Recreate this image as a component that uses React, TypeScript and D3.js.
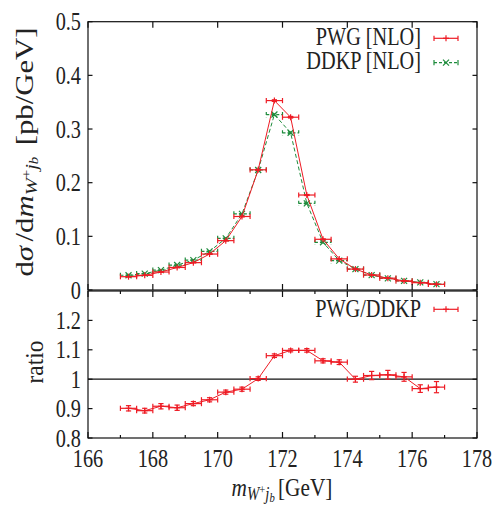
import React from "react";
import * as d3 from "d3";

const binCenters = [167.25, 167.75, 168.25, 168.75, 169.25, 169.75, 170.25, 170.75, 171.25, 171.75, 172.25, 172.75, 173.25, 173.75, 174.25, 174.75, 175.25, 175.75, 176.25, 176.75];
const binHalfWidth = 0.25;
const pwg = [0.0248, 0.0273, 0.0335, 0.042, 0.051, 0.067, 0.092, 0.137, 0.224, 0.353, 0.322, 0.177, 0.0945, 0.058, 0.039, 0.028, 0.022, 0.017, 0.0137, 0.0106];
const pwgErr = [0.0003, 0.0003, 0.0003, 0.0004, 0.0004, 0.0005, 0.0006, 0.0008, 0.001, 0.0015, 0.0015, 0.001, 0.0007, 0.0005, 0.0004, 0.0004, 0.0003, 0.0003, 0.0003, 0.0003];
const ddkp = [0.0275, 0.0306, 0.0369, 0.0465, 0.0556, 0.072, 0.0962, 0.1418, 0.2236, 0.327, 0.293, 0.1615, 0.0889, 0.0548, 0.039, 0.0277, 0.0217, 0.0169, 0.01415, 0.0109];
const ddkpErr = [0.0003, 0.0003, 0.0003, 0.0004, 0.0004, 0.0005, 0.0006, 0.0008, 0.001, 0.0015, 0.0015, 0.001, 0.0007, 0.0005, 0.0004, 0.0004, 0.0003, 0.0003, 0.0003, 0.0003];
const ratio = [0.901, 0.893, 0.908, 0.903, 0.917, 0.93, 0.956, 0.966, 1.002, 1.08, 1.098, 1.098, 1.0625, 1.058, 1.0, 1.0125, 1.015, 1.008, 0.968, 0.973];
const ratioErr = [0.009, 0.008, 0.009, 0.009, 0.007, 0.007, 0.007, 0.007, 0.006, 0.006, 0.005, 0.006, 0.007, 0.008, 0.01, 0.014, 0.015, 0.015, 0.013, 0.019];

const xMajorTicks = [166, 168, 170, 172, 174, 176, 178];
const xMinorTicks = [167, 169, 171, 173, 175, 177];
const yTopTicks = [0, 0.1, 0.2, 0.3, 0.4, 0.5];
const yTopLabels = ["0", "0.1", "0.2", "0.3", "0.4", "0.5"];
const yBotTicks = [0.8, 0.9, 1.0, 1.1, 1.2];
const yBotLabels = ["0.8", "0.9", "1", "1.1", "1.2"];

const W = 498, H = 505;
const L = 88, R = 477;
const TOP_T = 21.7, TOP_B = 290, BOT_T = 291, BOT_B = 438;
const RED = "#ee1c25";
const GREEN = "#1e8c3c";
const FONT = "'Liberation Serif', 'DejaVu Serif', serif";
const FS = 26;
const SX = 0.78;

const x = d3.scaleLinear().domain([166, 178]).range([L, R]);
const yTop = d3.scaleLinear().domain([0, 0.5]).range([TOP_B, TOP_T]);
const yBot = d3.scaleLinear().domain([0.8, 1.3]).range([BOT_B, BOT_T]);

function T({ x: tx, y: ty, anchor = "middle", rotate = false, children, size = FS, sx = SX, sy = 1 }: any) {
  return (
    <text
      transform={`translate(${tx},${ty})${rotate ? " rotate(-90)" : ""} scale(${sx},${sy})`}
      textAnchor={anchor}
      fontFamily={FONT}
      fontSize={size}
      fill="#222"
    >
      {children}
    </text>
  );
}

function ErrBars({ vals, errs, ys, color, dash, marker }: any) {
  const cap = 2.6;
  return (
    <g stroke={color} strokeWidth={1.2} fill="none" strokeDasharray={dash}>
      {binCenters.map((c, i) => {
        const cx = x(c), cy = ys(vals[i]);
        const x0 = x(c - binHalfWidth), x1 = x(c + binHalfWidth);
        const ya = ys(vals[i] - errs[i]), yb = ys(vals[i] + errs[i]);
        return (
          <g key={i}>
            <line x1={x0} x2={x1} y1={cy} y2={cy} />
            <line x1={x0} x2={x0} y1={cy - cap} y2={cy + cap} />
            <line x1={x1} x2={x1} y1={cy - cap} y2={cy + cap} />
            <line x1={cx} x2={cx} y1={ya} y2={yb} />
            <line x1={cx - cap} x2={cx + cap} y1={ya} y2={ya} />
            <line x1={cx - cap} x2={cx + cap} y1={yb} y2={yb} />
            {marker === "plus" ? (
              <g strokeDasharray="none">
                <line x1={cx - 3} x2={cx + 3} y1={cy} y2={cy} />
                <line x1={cx} x2={cx} y1={cy - 3} y2={cy + 3} />
              </g>
            ) : (
              <g strokeDasharray="none">
                <line x1={cx - 3} x2={cx + 3} y1={cy - 3} y2={cy + 3} />
                <line x1={cx - 3} x2={cx + 3} y1={cy + 3} y2={cy - 3} />
              </g>
            )}
          </g>
        );
      })}
    </g>
  );
}

function LegendSample({ y, color, dash, marker }: any) {
  const x0 = 434, x1 = 458, cx = 446, cap = 2.6;
  return (
    <g stroke={color} strokeWidth={1.2} fill="none">
      <line x1={x0} x2={x1} y1={y} y2={y} strokeDasharray={dash} />
      <line x1={x0} x2={x0} y1={y - cap} y2={y + cap} />
      <line x1={x1} x2={x1} y1={y - cap} y2={y + cap} />
      {marker === "plus" ? (
        <g>
          <line x1={cx - 3} x2={cx + 3} y1={y} y2={y} />
          <line x1={cx} x2={cx} y1={y - 3} y2={y + 3} />
        </g>
      ) : (
        <g>
          <line x1={cx - 3} x2={cx + 3} y1={y - 3} y2={y + 3} />
          <line x1={cx - 3} x2={cx + 3} y1={y + 3} y2={y - 3} />
        </g>
      )}
    </g>
  );
}

function Frame({ t, b, yTicks, ys, minor }: any) {
  return (
    <g stroke="#111" strokeWidth={1.2} fill="none">
      <rect x={L} y={t} width={R - L} height={b - t} />
      {xMajorTicks.map((v) => (
        <g key={"M" + v}>
          <line x1={x(v)} x2={x(v)} y1={b} y2={b - 6} />
          <line x1={x(v)} x2={x(v)} y1={t} y2={t + 6} />
        </g>
      ))}
      {minor &&
        xMinorTicks.map((v) => (
          <g key={"m" + v}>
            <line x1={x(v)} x2={x(v)} y1={b} y2={b - 3} />
            <line x1={x(v)} x2={x(v)} y1={t} y2={t + 3} />
          </g>
        ))}
      {yTicks.map((v: number) => (
        <g key={"y" + v}>
          <line x1={L} x2={L + 4.5} y1={ys(v)} y2={ys(v)} />
          <line x1={R} x2={R - 4.5} y1={ys(v)} y2={ys(v)} />
        </g>
      ))}
    </g>
  );
}

export default function App() {
  const lineTop = d3
    .line<number>()
    .x((_, i) => x(binCenters[i]))
    .y((v) => yTop(v));
  const lineBot = d3
    .line<number>()
    .x((_, i) => x(binCenters[i]))
    .y((v) => yBot(v));

  return (
    <svg width={W} height={H} style={{ position: "absolute", left: 0, top: 0, background: "#fff" }}>
      <rect width={W} height={H} fill="#fff" />

      {/* top panel data */}
      <path d={lineTop(ddkp) || ""} fill="none" stroke={GREEN} strokeWidth={1} strokeDasharray="4,2.5" />
      <ErrBars vals={ddkp} errs={ddkpErr} ys={yTop} color={GREEN} dash="3,2" marker="x" />
      <path d={lineTop(pwg) || ""} fill="none" stroke={RED} strokeWidth={1} />
      <ErrBars vals={pwg} errs={pwgErr} ys={yTop} color={RED} dash="none" marker="plus" />

      {/* bottom panel data */}
      <line x1={L} x2={R} y1={yBot(1)} y2={yBot(1)} stroke="#111" strokeWidth={1.2} />
      <path d={lineBot(ratio) || ""} fill="none" stroke={RED} strokeWidth={1} />
      <ErrBars vals={ratio} errs={ratioErr} ys={yBot} color={RED} dash="none" marker="plus" />

      <Frame t={TOP_T} b={TOP_B} yTicks={yTopTicks} ys={yTop} minor={false} />
      <Frame t={BOT_T} b={BOT_B} yTicks={yBotTicks} ys={yBot} minor={true} />

      {/* y tick labels */}
      {yTopTicks.map((v, i) => (
        <T key={"yt" + i} x={81} y={yTop(v) + 8.5} anchor="end">{yTopLabels[i]}</T>
      ))}
      {yBotTicks.map((v, i) => (
        <T key={"yb" + i} x={81} y={yBot(v) + 8.5} anchor="end">{yBotLabels[i]}</T>
      ))}
      {/* x tick labels */}
      {xMajorTicks.map((v) => (
        <T key={"xt" + v} x={x(v)} y={466.5}>{String(v)}</T>
      ))}

      {/* axis titles */}
      <T x={282} y={496} sx={0.82}>
        <tspan fontStyle="italic">m</tspan>
        <tspan fontStyle="italic" fontSize={18} dy={4}>W</tspan>
        <tspan fontSize={13} dy={-6}>+</tspan>
        <tspan fontStyle="italic" fontSize={18} dy={6}>j</tspan>
        <tspan fontStyle="italic" fontSize={13} dy={2}>b</tspan>
        <tspan dy={-6} dx={4}>[GeV]</tspan>
      </T>
      <T x={33} y={152} rotate sx={1.14} sy={0.9} size={27}>
        <tspan>d</tspan>
        <tspan fontStyle="italic">σ</tspan>
        <tspan dx={4}>/d</tspan>
        <tspan fontStyle="italic">m</tspan>
        <tspan fontStyle="italic" fontSize={18} dy={4}>W</tspan>
        <tspan fontSize={13} dy={-6}>+</tspan>
        <tspan fontStyle="italic" fontSize={18} dy={6}>j</tspan>
        <tspan fontStyle="italic" fontSize={13} dy={2}>b</tspan>
        <tspan dy={-6} dx={10}>[pb/GeV]</tspan>
      </T>
      <T x={43} y={362} rotate sx={0.9} sy={1}>ratio</T>

      {/* legends */}
      <T x={421} y={45} anchor="end">PWG [NLO]</T>
      <T x={421} y={69} anchor="end">DDKP [NLO]</T>
      <LegendSample y={38.3} color={RED} dash="none" marker="plus" />
      <LegendSample y={62.7} color={GREEN} dash="3,2" marker="x" />
      <T x={421} y={316.5} anchor="end">PWG/DDKP</T>
      <LegendSample y={309.3} color={RED} dash="none" marker="plus" />
    </svg>
  );
}
